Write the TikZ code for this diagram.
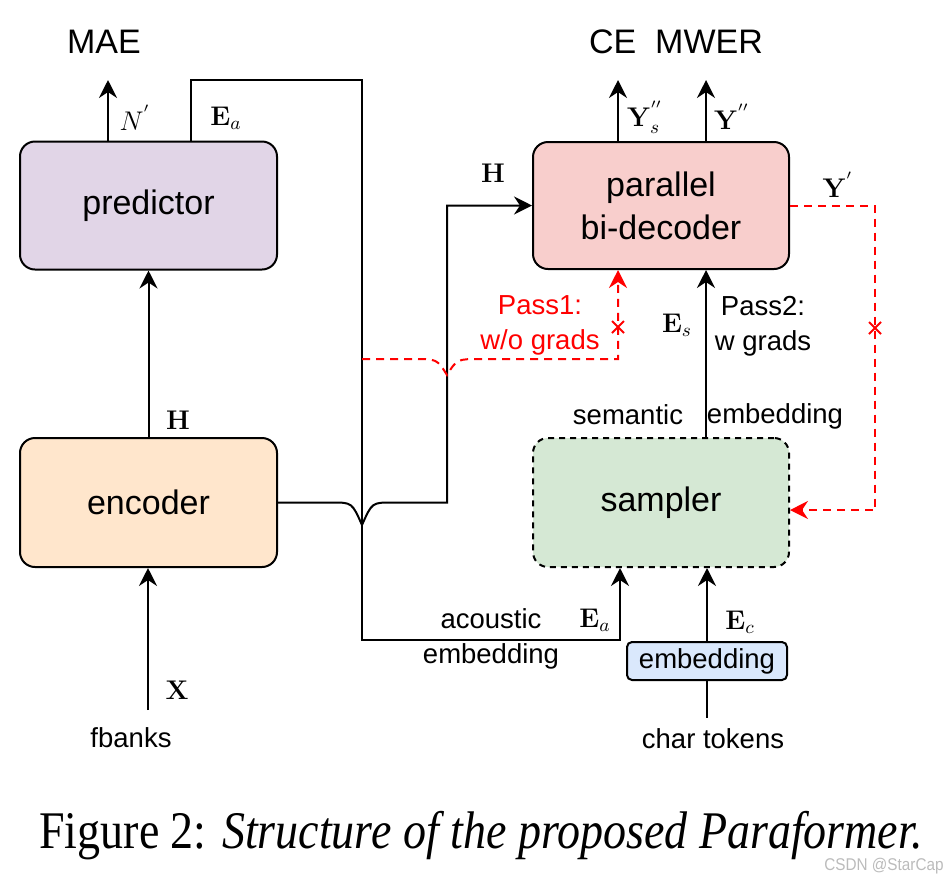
\RequirePackage{fix-cm}
\documentclass[tikz,border=0pt]{standalone}
\usepackage[no-math]{fontspec}
\setmainfont{Liberation Sans}
\newfontfamily\capfont{Liberation Serif}
\usetikzlibrary{arrows.meta,calc}
\definecolor{predfill}{HTML}{E1D5E7}
\definecolor{encfill}{HTML}{FFE6CC}
\definecolor{decfill}{HTML}{F8CECC}
\definecolor{sampfill}{HTML}{D5E8D4}
\definecolor{embfill}{HTML}{DAE8FC}
\definecolor{wmgray}{HTML}{BBBBBB}
\begin{document}
\begin{tikzpicture}[x=0.5pt,y=-0.5pt,
  box/.style={draw=black, line width=1pt, rounded corners=7.5pt, inner sep=0pt, align=center,
    font=\fontsize{17}{21.5}\selectfont},
  big/.style={inner sep=0pt, font=\fontsize{17}{21.5}\selectfont},
  lbl/.style={inner sep=0pt, align=center, font=\fontsize{13.75}{17.5}\selectfont},
  mlbl/.style={inner sep=0pt, font=\fontsize{13.5}{15}\selectfont},
  ln/.style={line width=1pt},
  arr/.style={line width=1pt, -{Stealth[length=9pt,width=9pt,inset=3pt]}},
  rd/.style={line width=1pt, draw=red, dash pattern=on 4pt off 3pt},
  rarr/.style={rd, -{Stealth[length=9pt,width=9pt,inset=3pt,fill=red]}},
  xmark/.style={line width=1pt, draw=red}
]
\useasboundingbox (0,0) rectangle (948,874);

% boxes
\node[box, fill=predfill, minimum width=128.5pt, minimum height=64pt] (predictor) at (148.5,205.5) {predictor};
\node[box, fill=encfill, minimum width=128.5pt, minimum height=64.5pt] (encoder) at (148.5,502.5) {encoder};
\node[box, fill=decfill, minimum width=128pt, minimum height=63.5pt] (decoder) at (661,205.5) {parallel\\bi-decoder};
\node[box, fill=sampfill, dash pattern=on 3pt off 2.5pt, minimum width=128pt, minimum height=64.5pt] (sampler) at (661,502.5) {sampler};
\node[box, rounded corners=2.5pt, fill=embfill, minimum width=80pt, minimum height=19pt, font=\fontsize{13.75}{17}\selectfont] (emb) at (707,661) {embedding};

% top texts
\node[big] (mae) at (104,42) {MAE};
\node[big] (cemwer) at (676,42) {CE\ \ MWER};
\node[lbl] (fbanks) at (131,738) {fbanks};
\node[lbl] (chartok) at (713,739) {char tokens};

% predictor outputs
\coordinate (nout) at (108,80);
\draw[arr] (predictor.north -| nout) -- (nout);
\node[mlbl] at (135,118) {$N^{'}$};
\coordinate (ea1) at (191,80);
\coordinate (ea2) at (362,80);
\coordinate (ea3) at (362,640);
\coordinate (ea4) at (620,640);
\draw[arr] (predictor.north -| ea1) -- (ea1) -- (ea2) -- (ea3) -- (ea4) -- (sampler.south -| ea4);
\node[mlbl] at (226,118) {$\mathbf{E}_a$};
\node[lbl] at (491,639) {acoustic\\embedding};
\node[mlbl] at (595,620) {$\mathbf{E}_a$};

% encoder
\draw[arr] (encoder.north) -- (predictor.south);
\node[mlbl] at (178,420) {$\mathbf{H}$};
\coordinate (xbot) at (148,710);
\draw[arr] (xbot) -- (encoder.south -| xbot);
\node[mlbl] at (177,690) {$\mathbf{X}$};

\draw[arr] (encoder.east) -- (332,502.5) .. controls (352,502.5) .. (362,525)
  .. controls (372,502.5) .. (392,502.5) -- (447,502.5) -- (447,205.5) -- (decoder.west);
\node[mlbl] at (493,173) {$\mathbf{H}$};

% pass1 red dashed
\coordinate (p1) at (618,359);
\draw[rarr] (362,359) -- (413,359) .. controls (437,359) .. (447,375)
  .. controls (457,359) .. (481,359) -- (p1) -- (decoder.south -| p1);
\draw[xmark] (612,321) -- (624,333) (624,321) -- (612,333);
\node[lbl, text=red] at (540,325.5) {Pass1:\\w/o grads};

% semantic embedding
\coordinate (es) at (706,400);
\draw[arr] (sampler.north -| es) -- (decoder.south -| es);
\node[mlbl] at (677,325) {$\mathbf{E}_s$};
\node[lbl] at (763,326) {Pass2:\\w grads};
\node[lbl] at (628,415) {semantic};
\node[lbl] at (775,416) {embedding};

% decoder outputs
\coordinate (ys) at (618,80);
\coordinate (yy) at (706,80);
\draw[arr] (decoder.north -| ys) -- (ys);
\draw[arr] (decoder.north -| yy) -- (yy);
\node[mlbl] at (645,117) {$\mathbf{Y}_s^{''}$};
\node[mlbl] at (732,117) {$\mathbf{Y}^{''}$};

% Y' feedback
\coordinate (yp1) at (875,205.5);
\coordinate (yp2) at (875,510);
\draw[rarr] (decoder.east) -- (yp1) -- (yp2) -- (sampler.east |- yp2);
\draw[xmark] (869,322) -- (881,334) (881,322) -- (869,334);
\node[mlbl] at (838,185) {$\mathbf{Y}^{'}$};

% char embedding
\draw[arr] (emb.north) -- (sampler.south -| emb.north);
\coordinate (ctop) at (707,718);
\draw[ln] (emb.south) -- (ctop);
\node[mlbl] at (740,622) {$\mathbf{E}_c$};

% caption
\node[inner sep=0pt, font=\capfont\fontsize{23}{23}\selectfont, yscale=1.15] (caption) at (481,836)
  {Figure 2: \textit{Structure of the proposed Paraformer.}};
\node[inner sep=0pt, text=wmgray, font=\fontsize{8.5}{8.5}\selectfont, xscale=0.9] (wm) at (884,866) {CSDN @StarCap};
\end{tikzpicture}
\end{document}
